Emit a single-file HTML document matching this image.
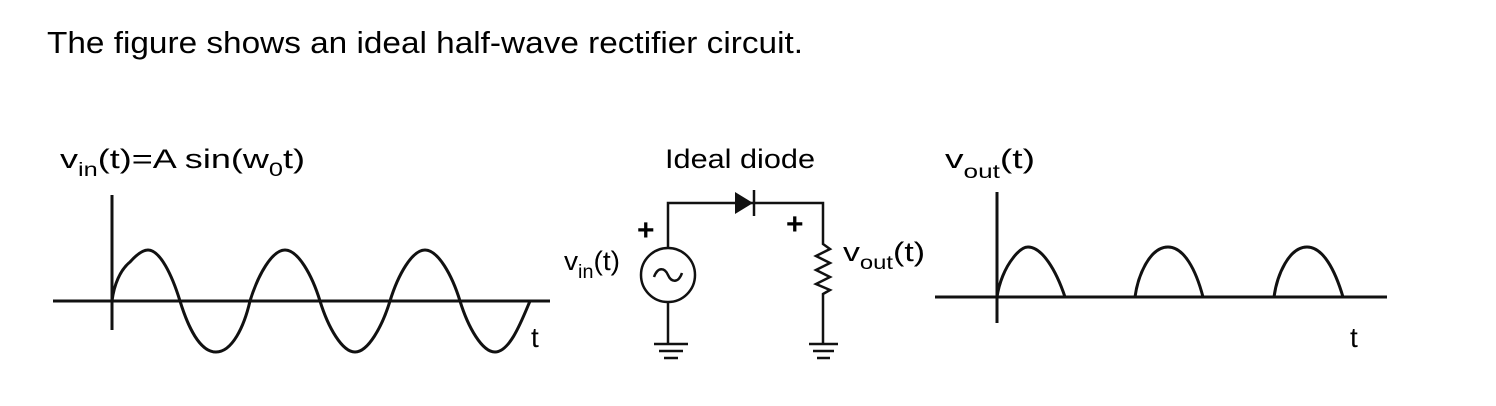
<!DOCTYPE html>
<html><head><meta charset="utf-8"><style>
html,body{margin:0;padding:0;background:#fff;}
svg{display:block;}
text{font-family:"Liberation Sans",sans-serif;fill:#000;}
</style></head><body>
<svg width="1496" height="406" viewBox="0 0 1496 406" xmlns="http://www.w3.org/2000/svg">
<text x="47" y="53" font-size="31" textLength="756" lengthAdjust="spacingAndGlyphs">The figure shows an ideal half-wave rectifier circuit.</text>

<!-- left graph -->
<text x="60" y="168" font-size="27" textLength="245" lengthAdjust="spacingAndGlyphs">v<tspan font-size="19" dy="8">in</tspan><tspan dy="-8">(t)=A sin(w</tspan><tspan font-size="19" dy="8">0</tspan><tspan dy="-8">t)</tspan></text>
<g fill="none" stroke="#111" stroke-width="3">
<line x1="53" y1="301" x2="550" y2="301"/>
<line x1="112" y1="195" x2="112" y2="330"/>
<path d="M112,301 C114,285 120,270 130,262 C138,253 144,250 148,250 C160,250 172,275 180,301 C188,327 200,352 216,352 C232,352 244,327 250,301 C258,275 272,250 285,250 C298,250 312,275 320,301 C328,327 342,352 355,352 C368,352 382,327 390,301 C398,275 412,250 425,250 C438,250 452,275 460,301 C468,327 482,352 495,352 C510,352 522,320 530,301"/>
</g>
<text x="531" y="347" font-size="28">t</text>

<!-- circuit -->
<text x="665" y="168" font-size="27" textLength="150" lengthAdjust="spacingAndGlyphs">Ideal diode</text>
<g fill="none" stroke="#111" stroke-width="2.5">
<polyline points="668,248 668,203 823,203 823,240"/>
<circle cx="668" cy="275" r="27"/>
<path d="M654,277 C658,266 665,268 668,275 C671,282 678,284 682,273"/>
<line x1="668" y1="302" x2="668" y2="343"/>
<line x1="654" y1="344" x2="688" y2="344"/>
<line x1="659" y1="351" x2="683" y2="351"/>
<line x1="664" y1="358" x2="678" y2="358"/>
<polyline points="823,240 823,244 830,249 816,256 830,263 816,270 830,277 816,284 830,290 823,294 823,343"/>
<line x1="809" y1="344" x2="838" y2="344"/>
<line x1="813" y1="351" x2="834" y2="351"/>
<line x1="817" y1="358" x2="830" y2="358"/>
<line x1="754" y1="190" x2="754" y2="216"/>
</g>
<polygon points="735,192 753,203 735,214" fill="#111"/>
<text x="637" y="240" font-size="30" font-weight="bold">+</text>
<text x="786" y="234" font-size="30" font-weight="bold">+</text>
<text x="564" y="270" font-size="27" textLength="56" lengthAdjust="spacingAndGlyphs">v<tspan font-size="19" dy="8">in</tspan><tspan dy="-8">(t)</tspan></text>
<text x="843" y="261" font-size="27" textLength="82" lengthAdjust="spacingAndGlyphs">v<tspan font-size="19" dy="8">out</tspan><tspan dy="-8">(t)</tspan></text>

<!-- right graph -->
<text x="945" y="168" font-size="27" textLength="90" lengthAdjust="spacingAndGlyphs">v<tspan font-size="19" dy="10">out</tspan><tspan dy="-10">(t)</tspan></text>
<g fill="none" stroke="#111" stroke-width="3">
<line x1="935" y1="297" x2="1387" y2="297"/>
<line x1="997" y1="192" x2="997" y2="323"/>
<path d="M997,297 C999,283 1005,268 1013,258 C1019,250 1024,247 1028,247 C1042,247 1056,270 1065,297"/>
<path d="M1135,297 C1138,275 1150,247 1168,247 C1184,247 1196,270 1203,297"/>
<path d="M1274,297 C1277,275 1289,247 1307,247 C1323,247 1335,270 1343,297"/>
</g>
<text x="1350" y="347" font-size="28">t</text>
</svg>
</body></html>
